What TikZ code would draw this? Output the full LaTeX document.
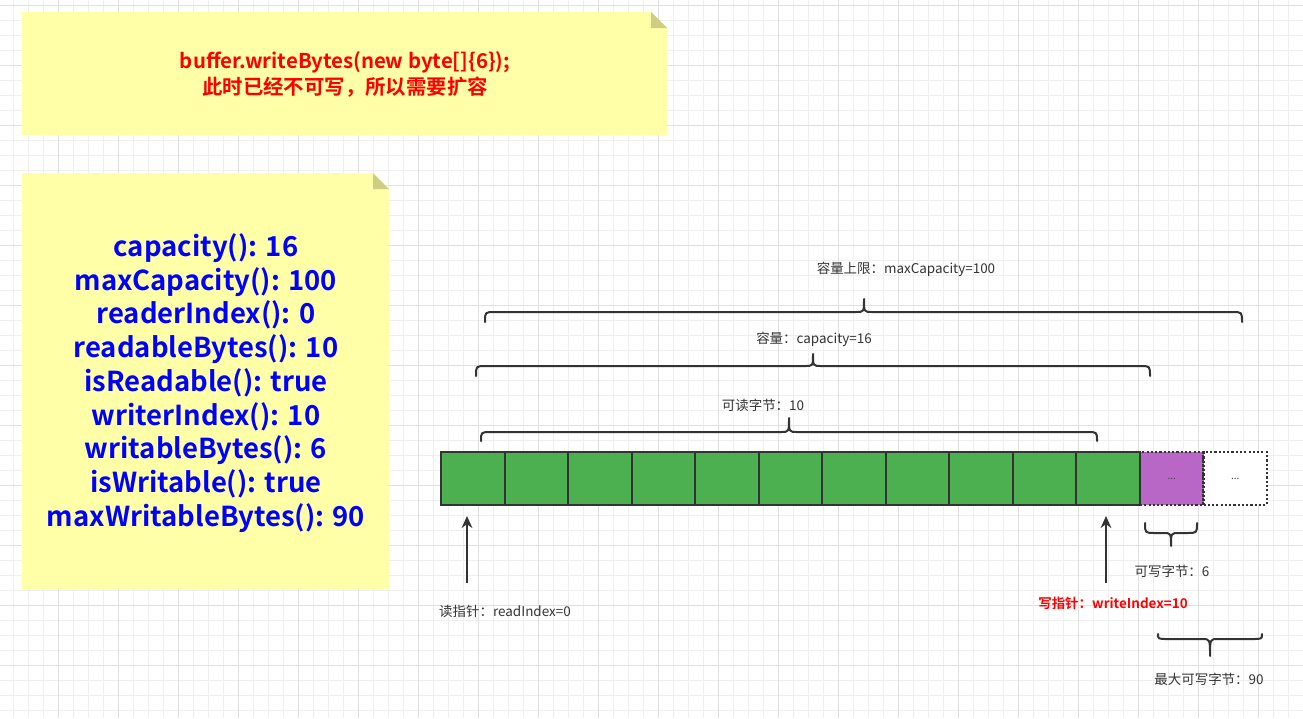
\documentclass[tikz,border=0pt]{standalone}
\usepackage{fontspec}
\setmainfont{Noto Sans CJK SC}[BoldFont={Noto Sans CJK SC Bold}]
\usetikzlibrary{arrows.meta}
\definecolor{gridminor}{HTML}{EFEFEF}
\definecolor{gridmajor}{HTML}{E0E0E0}
\definecolor{noteyellow}{HTML}{FFFFA8}
\definecolor{notefold}{HTML}{CDCD84}
\definecolor{cellgreen}{HTML}{4CAF50}
\definecolor{cellpurple}{HTML}{B967C7}
\definecolor{darkline}{HTML}{333333}
\definecolor{labelgray}{HTML}{333333}
\definecolor{redtext}{HTML}{FF0000}
\definecolor{bluetext}{HTML}{0000FF}
\newcommand\curlybr[6]{% x0, x1, tip, yEnd, yLine, yTip
  \draw[bracestyle] (#1,#4) .. controls (#1,#5) .. ({#1+10},#5) -- ({#3-8},#5)
    .. controls (#3,#5) .. (#3,#6) .. controls (#3,#5) .. ({#3+8},#5)
    -- ({#2-10},#5) .. controls (#2,#5) .. (#2,#4);}
\begin{document}
\begin{tikzpicture}[x=0.75pt,y=-0.75pt,
  minorline/.style={gridminor,line width=0.75pt},
  majorline/.style={gridmajor,line width=0.75pt},
  notebox/.style={fill=noteyellow,draw=none},
  foldtri/.style={fill=notefold,draw=none},
  cellbox/.style={draw=darkline,line width=1.5pt,fill=cellgreen,minimum width=47.625pt,minimum height=39.3pt,inner sep=0pt,outer sep=0pt},
  dotbox/.style={draw=darkline,line width=1.6pt,dash pattern=on 1.6pt off 1.6pt,minimum width=47.625pt,minimum height=39.3pt,inner sep=0pt,outer sep=0pt,font=\fontsize{7.5pt}{9pt}\selectfont,text=darkgray},
  bracestyle/.style={draw=darkline,line width=1.5pt,line cap=round,line join=round},
  smalllabel/.style={font=\fontsize{10.1pt}{12pt}\selectfont,text=labelgray,inner sep=0pt},
  pointer/.style={draw=darkline,line width=1.5pt,-{Stealth[length=9pt,width=8pt]}},
]
\useasboundingbox (0,0) rectangle (1303,718);
\fill[white] (0,0) rectangle (1303,718);
% grid
\foreach \x in {13.5,28.5,...,1303} \draw[minorline] (\x,0) -- (\x,718);
\foreach \y in {5,20,...,718} \draw[minorline] (0,\y) -- (1303,\y);
\foreach \x in {58.5,118.5,...,1303} \draw[majorline] (\x,0) -- (\x,718);
\foreach \y in {5,65,...,718} \draw[majorline] (0,\y) -- (1303,\y);

% top note
\fill[notebox] (22,12) -- (651,12) -- (667,28) -- (667,135) -- (22,135) -- cycle;
\fill[foldtri] (651,12) -- (667,28) -- (651,28) -- cycle;
\node[align=center,text=redtext,font=\fontsize{15.3pt}{19.5pt}\selectfont\bfseries,inner sep=0pt] (topnote) at (345,74)
  {buffer.writeBytes(new byte[]\{6\});\\此时已经不可写，所以需要扩容};

% left note
\fill[notebox] (22,173) -- (373,173) -- (389,189) -- (389,589) -- (22,589) -- cycle;
\fill[foldtri] (373,173) -- (389,189) -- (373,189) -- cycle;
\node[align=center,text=bluetext,font=\fontsize{20.6pt}{25.3pt}\selectfont\bfseries,inner sep=0pt] (infonote) at (206,383)
  {capacity(): 16\\maxCapacity(): 100\\readerIndex(): 0\\readableBytes(): 10\\isReadable(): true\\writerIndex(): 10\\writableBytes(): 6\\isWritable(): true\\maxWritableBytes(): 90};

% buffer cells
\node[dotbox,fill=cellpurple] (p) at (1171.75,478.5) {...};
\node[dotbox,fill=white] (w) at (1235.25,478.5) {...};
\foreach \i in {0,...,10} {
  \node[cellbox] (c\i) at ({441+63.5*(\i+0.5)},478.5) {};
}

% braces
\curlybr{485}{1242}{864}{322}{312}{299}
\curlybr{476}{1150}{813}{376}{366}{354}
\curlybr{481}{1097}{789}{441}{432}{418}
\curlybr{1145}{1197}{1171}{523}{533}{546}
\curlybr{1158}{1262}{1210}{634}{639}{656}

\node[smalllabel] (lmax) at (906,269) {容量上限：maxCapacity=100};
\node[smalllabel] (lcap) at (814,339) {容量：capacity=16};
\node[smalllabel] (lread) at (763,405) {可读字节：10};
\node[smalllabel] (lwr) at (1172,571) {可写字节：6};
\node[smalllabel] (lmw) at (1209,679) {最大可写字节：90};

% pointers
\coordinate (rbase) at (467,583);
\coordinate (rtip) at (467,516);
\coordinate (wbase) at (1106,583);
\coordinate (wtip) at (1106,516);
\draw[pointer] (rbase) -- (rtip);
\draw[pointer] (wbase) -- (wtip);
\node[smalllabel] (lrp) at (505,611) {读指针：readIndex=0};
\node[smalllabel,text=redtext,font=\fontsize{10.1pt}{12pt}\selectfont\bfseries] (lwp) at (1113,603) {写指针：writeIndex=10};
\end{tikzpicture}
\end{document}
